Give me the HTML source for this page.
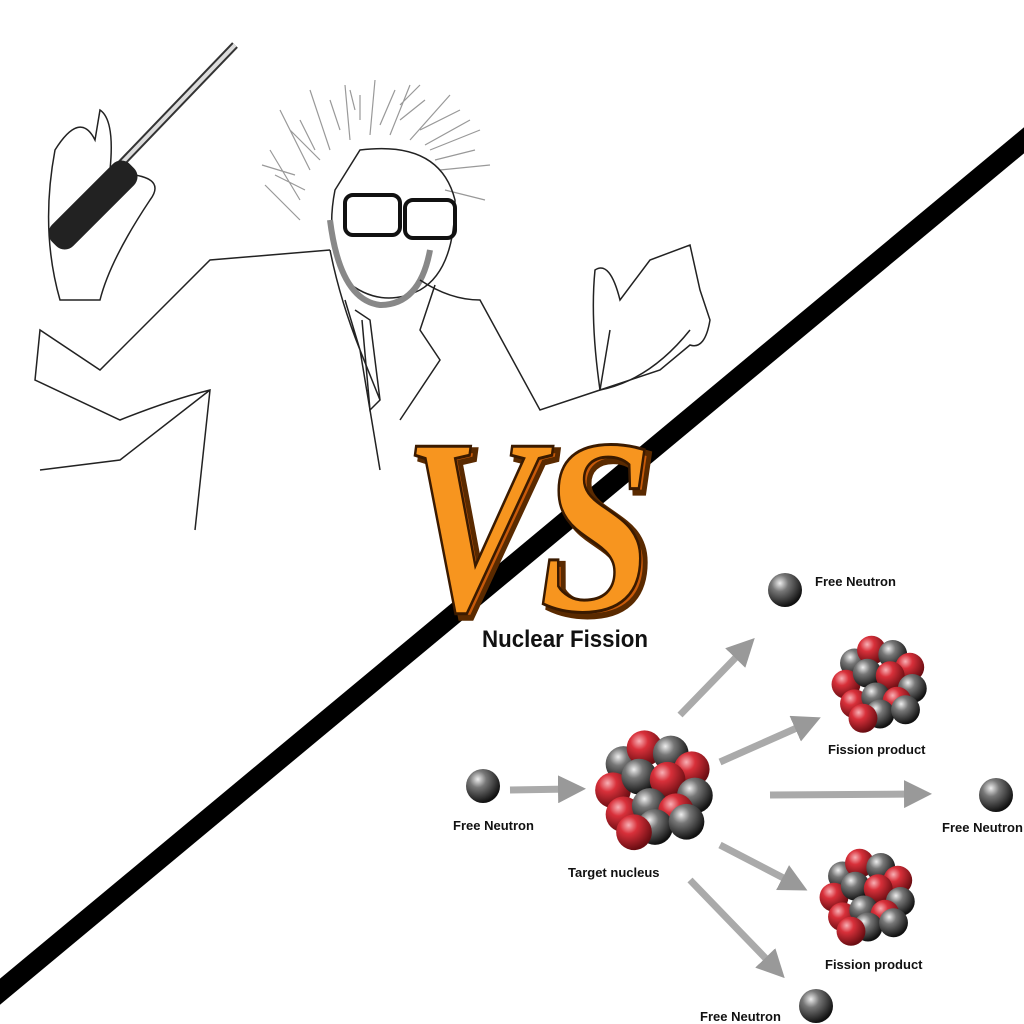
<!DOCTYPE html>
<html><head><meta charset="utf-8"><style>
html,body{margin:0;padding:0;background:#fff;width:1024px;height:1024px;overflow:hidden}
svg{display:block}
text{font-family:"Liberation Sans",sans-serif;font-weight:bold;fill:#111}
</style></head><body>
<svg width="1024" height="1024" viewBox="0 0 1024 1024">
<defs>
<radialGradient id="gray" cx="35%" cy="30%" r="70%"><stop offset="0" stop-color="#eee"/><stop offset="0.35" stop-color="#777"/><stop offset="1" stop-color="#111"/></radialGradient>
<radialGradient id="red" cx="35%" cy="30%" r="70%"><stop offset="0" stop-color="#f8b0b5"/><stop offset="0.35" stop-color="#d8303a"/><stop offset="1" stop-color="#6a0d12"/></radialGradient>
<marker id="ah" markerWidth="4" markerHeight="4" refX="2" refY="2" orient="auto"><path d="M0,0 L4,2 L0,4 z" fill="#999"/></marker>
</defs>
<rect width="1024" height="1024" fill="#fff"/>

<g fill="none" stroke="#222" stroke-width="1.5">
 <g stroke="#999" stroke-width="1.2">
  <path d="M300,200 L270,150 M310,170 L280,110 M330,150 L310,90 M350,140 L345,85 M370,135 L375,80 M390,135 L410,85 M410,140 L450,95 M430,150 L480,130 M440,170 L490,165 M300,220 L265,185 M320,160 L290,130 M360,120 L360,95 M400,120 L425,100 M445,190 L485,200 M305,190 L275,175 M315,150 L300,120 M340,130 L330,100 M380,125 L395,90 M420,130 L460,110 M435,160 L475,150 M295,175 L262,165 M355,110 L350,90 M400,105 L420,85 M425,145 L470,120"/>
 </g>
 <path d="M360,150 Q440,140 455,200 Q455,270 420,290 Q380,310 345,280 Q325,240 335,190 Z"/>
 <path d="M330,220 Q340,300 380,305 Q420,305 430,250" stroke="#888" stroke-width="6"/>
 <g stroke="#111" stroke-width="4"><rect x="345" y="195" width="55" height="40" rx="8"/><rect x="405" y="200" width="50" height="38" rx="8"/></g>
 <path d="M330,250 L210,260 Q150,320 100,370 L40,330 L35,380 L120,420 Q170,400 210,390 L195,530 M330,250 Q340,300 360,350 L380,470 M420,280 Q450,300 480,300 L540,410 L600,390 L610,330 M435,285 L420,330 L440,360 L400,420 M345,300 L360,350 L380,400 M40,470 L120,460 L210,390 M600,390 Q650,380 690,330"/>
 <path d="M355,310 L370,320 L380,400 L370,410 L362,320"/>
 <path d="M60,300 Q40,230 55,150 Q80,110 95,140 L100,110 Q115,120 110,170 L135,175 Q165,180 150,200 Q110,260 100,300 Z"/>
 <path d="M600,390 Q590,320 595,270 Q610,260 620,300 L650,260 L690,245 L700,290 L710,320 Q705,350 690,345 L660,370 Z"/>
</g>
<g>
 <line x1="115" y1="170" x2="235" y2="45" stroke="#333" stroke-width="8"/>
 <line x1="115" y1="170" x2="235" y2="45" stroke="#ddd" stroke-width="4"/>
 <rect x="38" y="190" width="110" height="30" rx="12" fill="#222" transform="rotate(-45 93 205)"/>
</g>

<line x1="-10" y1="1000" x2="1034" y2="132" stroke="#000" stroke-width="20"/>

<g>
 <text x="408" y="614" textLength="250" lengthAdjust="spacingAndGlyphs" style="font-size:250px;font-style:italic;fill:#c85a0a;stroke:#5a2a00;stroke-width:6;font-family:'Liberation Serif',serif">VS</text>
 <text x="403" y="610" textLength="250" lengthAdjust="spacingAndGlyphs" style="font-size:250px;font-style:italic;fill:#f7951f;stroke:#3a1a00;stroke-width:3;font-family:'Liberation Serif',serif">VS</text>
</g>

<text x="482" y="647" textLength="166" lengthAdjust="spacingAndGlyphs" style="font-size:24px">Nuclear Fission</text>

<g stroke="#aaa" stroke-width="7" marker-end="url(#ah)">
 <line x1="510" y1="790" x2="572" y2="789"/>
 <line x1="680" y1="715" x2="745" y2="648"/>
 <line x1="720" y1="762" x2="808" y2="723"/>
 <line x1="770" y1="795" x2="918" y2="794"/>
 <line x1="720" y1="845" x2="795" y2="884"/>
 <line x1="690" y1="880" x2="775" y2="968"/>
</g>

<g>
 <circle cx="483" cy="786" r="17" fill="url(#gray)"/>
 <circle cx="785" cy="590" r="17" fill="url(#gray)"/>
 <circle cx="996" cy="795" r="17" fill="url(#gray)"/>
 <circle cx="816" cy="1006" r="17" fill="url(#gray)"/>
</g>

<g id="clusters"></g>

<g>
 <text x="815" y="586" style="font-size:13px">Free Neutron</text>
 <text x="828" y="754" style="font-size:13px">Fission product</text>
 <text x="453" y="830" style="font-size:13px">Free Neutron</text>
 <text x="942" y="832" style="font-size:13px">Free Neutron</text>
 <text x="568" y="877" style="font-size:13px">Target nucleus</text>
 <text x="825" y="969" style="font-size:13px">Fission product</text>
 <text x="700" y="1021" style="font-size:13px">Free Neutron</text>
</g>
</svg>
<script>
var g=document.getElementById('clusters');
var offs=[[-30,-20,0],[-10,-35,1],[15,-30,0],[35,-15,1],[-40,5,1],[-15,-8,0],[12,-5,1],[38,10,0],[-30,28,1],[-5,20,0],[20,25,1],[0,40,0],[30,35,0],[-20,45,1]];
function cluster(cx,cy,s,name){
 var grp=document.createElementNS('http://www.w3.org/2000/svg','g');
 
 
 offs.forEach(function(o){
  var c=document.createElementNS('http://www.w3.org/2000/svg','circle');
  c.setAttribute('cx',cx+o[0]*s);c.setAttribute('cy',cy+o[1]*s);c.setAttribute('r',17*s);
  c.setAttribute('fill',o[2]?'url(#red)':'url(#gray)');
  
  
  grp.appendChild(c);
 });
 g.appendChild(grp);
}
cluster(655,785,1.05,'target-nucleus');
cluster(880,680,0.85,'fission-product-top');
cluster(868,893,0.85,'fission-product-bottom');
</script>
</body></html>
